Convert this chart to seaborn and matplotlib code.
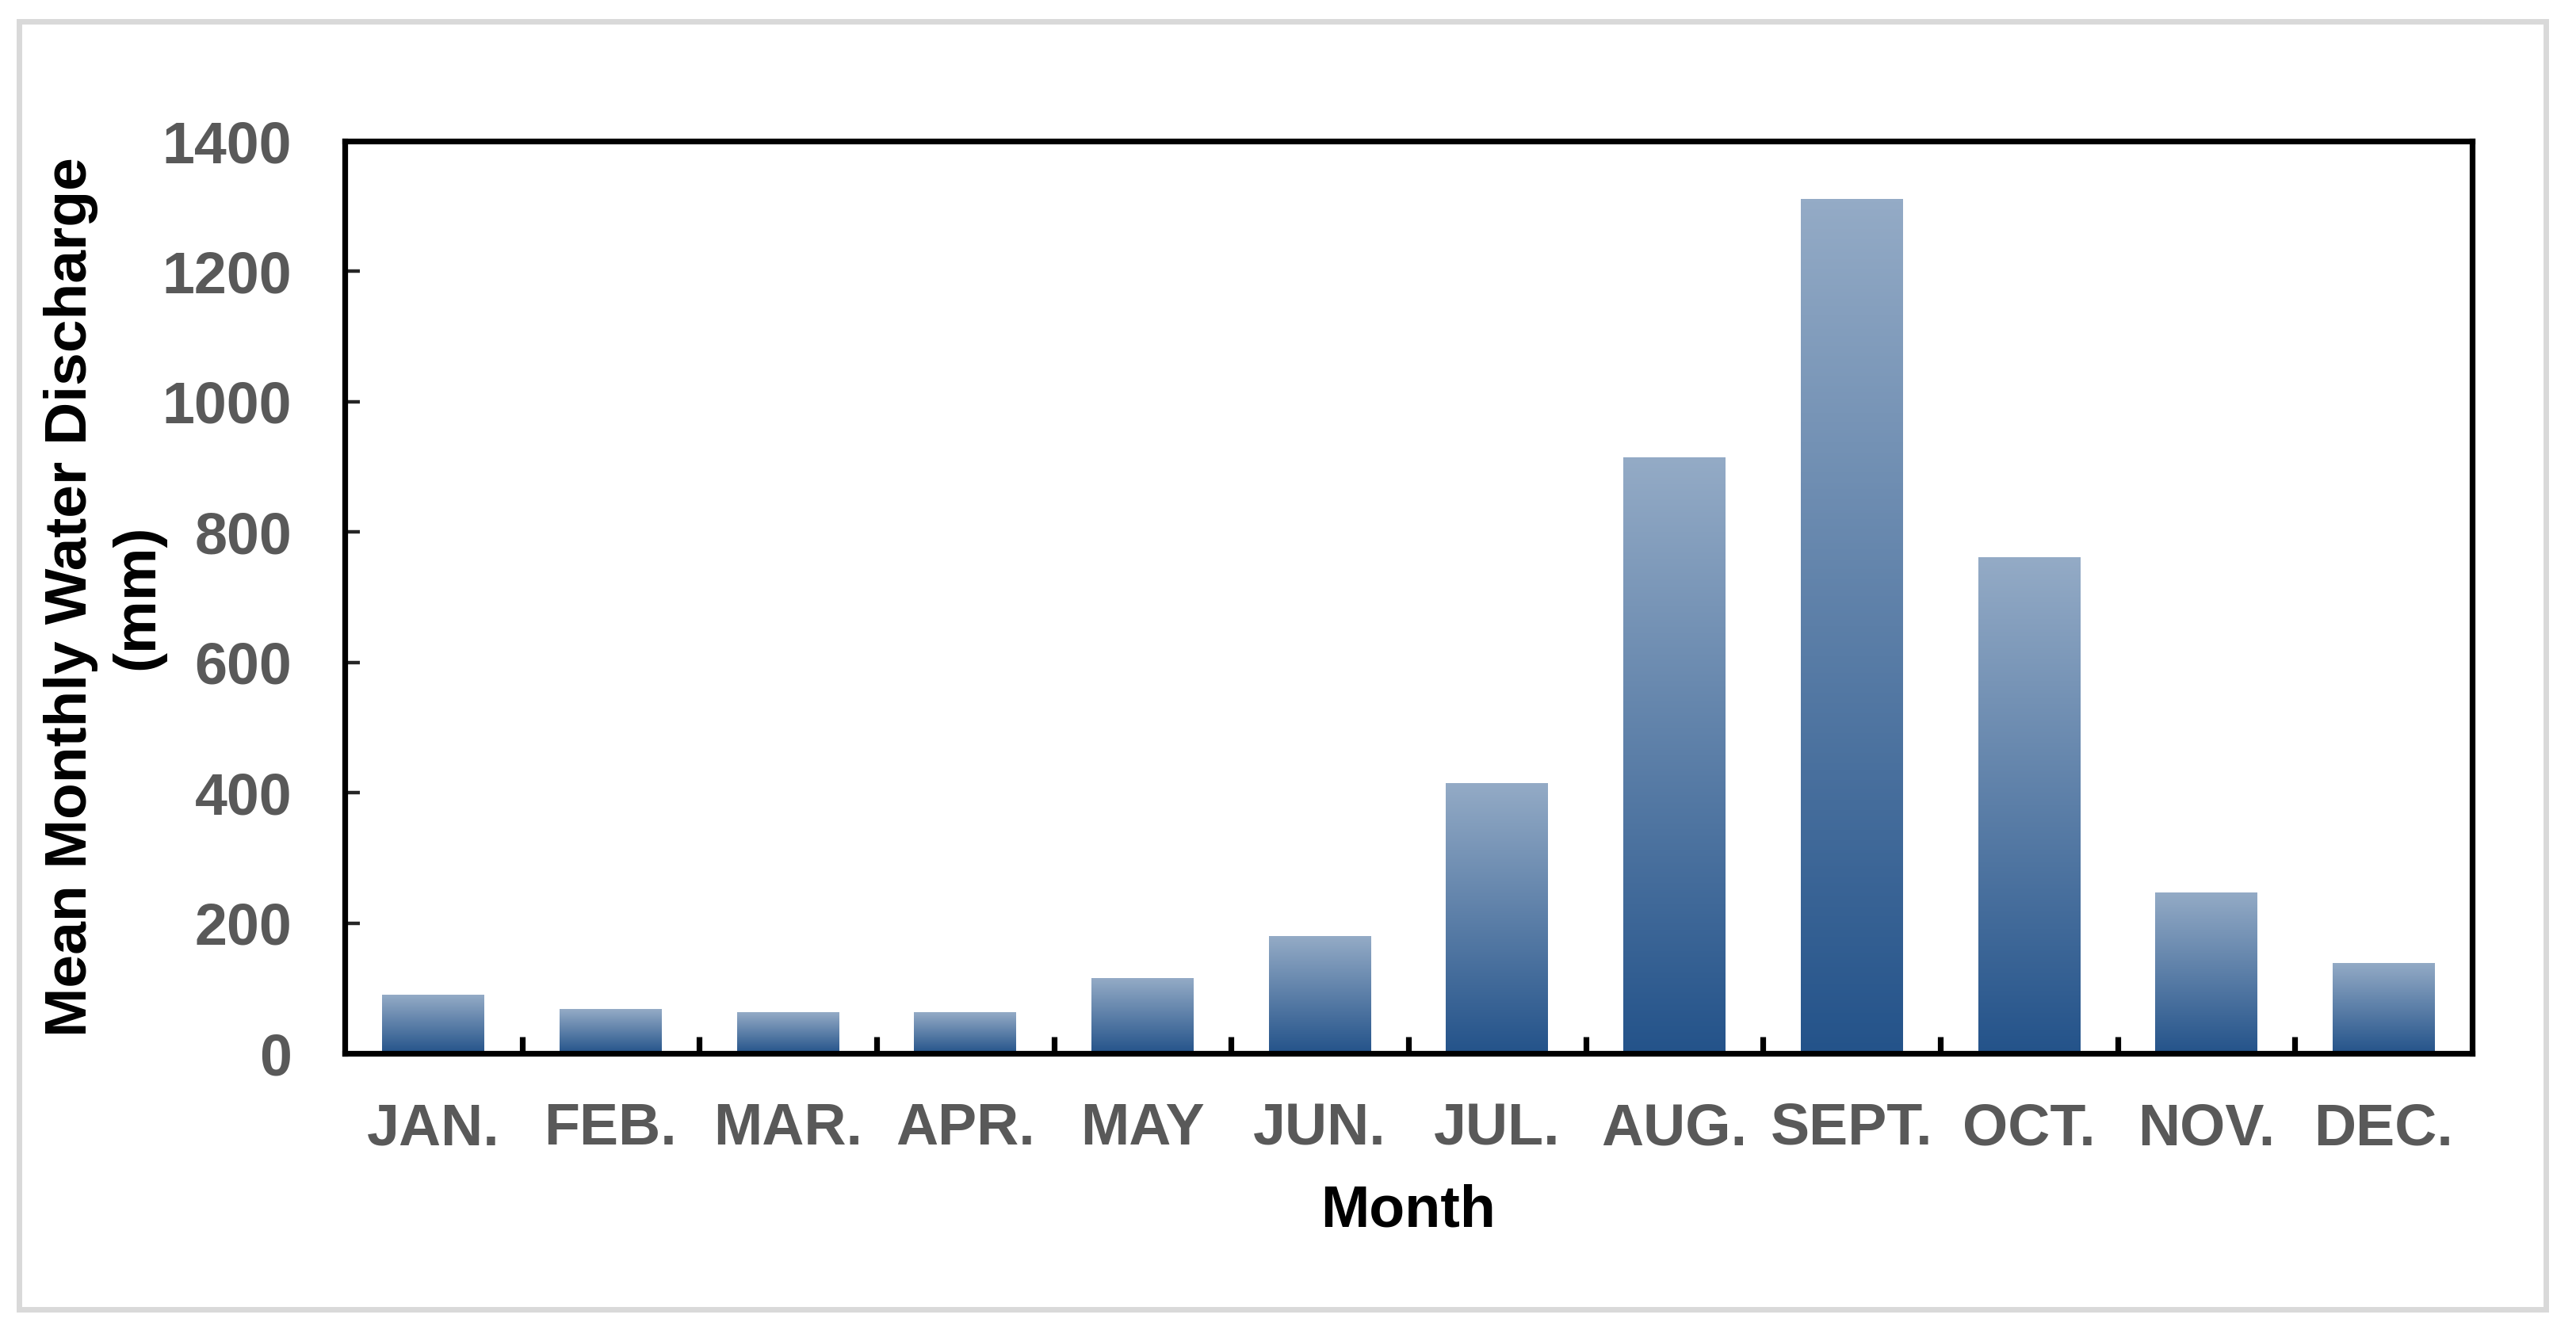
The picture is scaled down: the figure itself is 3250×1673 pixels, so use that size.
import numpy as np
import pandas as pd
import matplotlib
matplotlib.use('Agg')
import matplotlib.pyplot as plt
import seaborn as sns
from matplotlib.colors import LinearSegmentedColormap
from matplotlib.patches import Rectangle
from matplotlib.ticker import FixedLocator

# data
months = ['JAN.', 'FEB.', 'MAR.', 'APR.', 'MAY', 'JUN.', 'JUL.', 'AUG.',
          'SEPT.', 'OCT.', 'NOV.', 'DEC.']
discharge = [90, 68, 63, 63, 115, 180, 415, 915, 1311, 762, 247, 139]
y_ticks = [0, 200, 400, 600, 800, 1000, 1200, 1400]

df = pd.DataFrame({'month': months, 'discharge': discharge})

sns.set_style('white')
plt.rcParams['font.family'] = ['Liberation Sans', 'DejaVu Sans']
plt.rcParams['font.weight'] = 'bold'

fig = plt.figure(figsize=(16.25, 8.365), dpi=200)
ax = fig.add_axes([0.1338, 0.2056, 0.8259, 0.688])

sns.barplot(data=df, x='month', y='discharge', ax=ax, width=0.575,
            color='#4a6f9a', saturation=1)

# vertical gradient inside each bar (dark at the bottom, light at the top)
cmap = LinearSegmentedColormap.from_list('bar_grad', ['#24538a', '#94abc6'])
grad = np.linspace(0, 1, 256).reshape(-1, 1)
for p in ax.patches:
    x0, y0 = p.get_x(), p.get_y()
    w, h = p.get_width(), p.get_height()
    im = ax.imshow(grad, cmap=cmap, origin='lower', aspect='auto',
                   extent=[x0, x0 + w, y0, y0 + h], zorder=2)
    im.set_clip_path(p)
    p.set_facecolor('none')
    p.set_edgecolor('none')

ax.set_xlim(-0.5, len(months) - 0.5)
ax.set_ylim(0, 1400)
ax.set_yticks(y_ticks)

for s in ax.spines.values():
    s.set_visible(True)
    s.set_color('black')
    s.set_linewidth(2.6)

ax.tick_params(axis='y', direction='in', length=6.8, width=1.6,
               pad=24, labelsize=26.5, labelcolor='#595959', left=True)
ax.tick_params(axis='x', which='major', length=0, pad=22,
               labelsize=26.5, labelcolor='#595959')
ax.xaxis.set_minor_locator(FixedLocator(np.arange(0.5, len(months) - 1, 1)))
ax.tick_params(axis='x', which='minor', direction='in', length=7.5,
               width=2.6, bottom=True, color='black')

ax.set_xlabel('Month', fontsize=26.5, fontweight='bold', color='black')
ax.xaxis.set_label_coords(0.5, -0.1725)
ax.xaxis.label.set_verticalalignment('center')

ax.set_ylabel('Mean Monthly Water Discharge\n(mm)', fontsize=27,
              fontweight='bold', color='black', linespacing=1.28)
ax.yaxis.set_label_coords(-0.113, 0.5)
ax.yaxis.label.set_verticalalignment('center')

# light grey frame around the whole figure
fig.patches.append(Rectangle((24 / 3250, 1 - 1652 / 1673),
                             (3212 - 24) / 3250, (1652 - 27) / 1673,
                             transform=fig.transFigure, fill=False,
                             edgecolor='#d9d9d9', linewidth=2.5))

fig.savefig('out.png', dpi=200, facecolor='white')
